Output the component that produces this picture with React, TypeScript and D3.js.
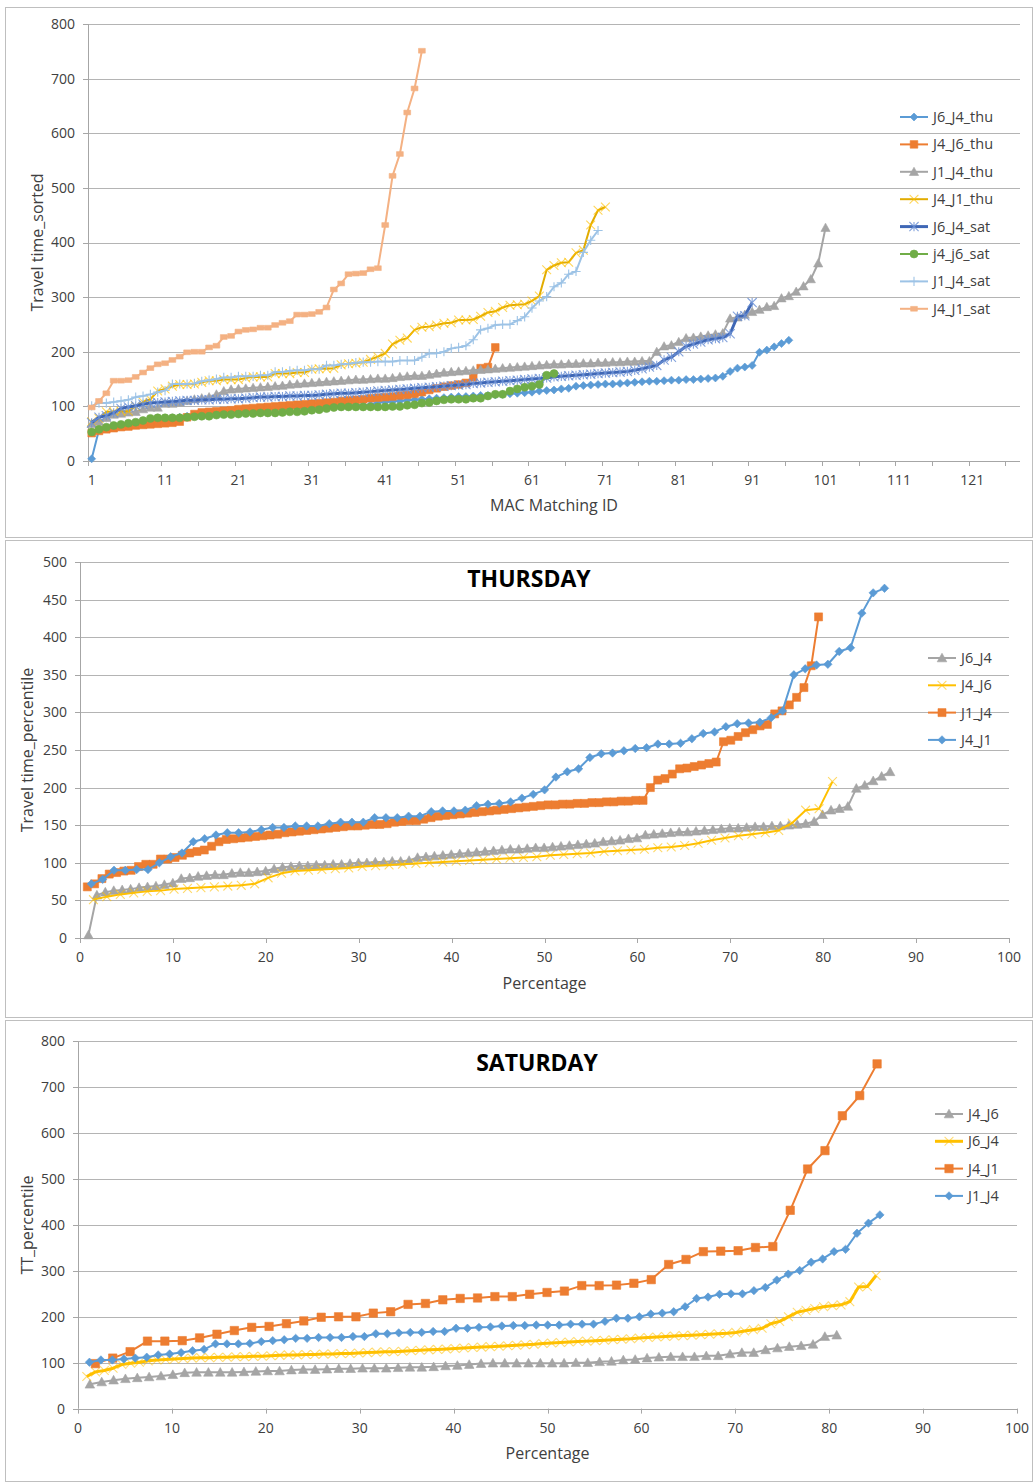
import * as d3 from "d3";
import { useEffect, useRef } from "react";
import * as React from "react";

// travel times, sorted, per MAC matching ID (thursday)
const thuJ6J4 = [
  4, 57, 61, 63, 64, 65, 67, 68, 69, 71, 73, 79, 80, 82, 83, 84, 84, 86, 87, 87,
  88, 89, 92, 94, 95, 96, 96, 97, 97, 98, 98, 99, 100, 100, 101, 101, 102, 102, 103, 107,
  108, 109, 110, 111, 112, 113, 114, 115, 116, 117, 118, 118, 119, 120, 120, 121, 122, 123, 124, 125,
  126, 128, 129, 130, 132, 133, 137, 138, 139, 140, 141, 141, 142, 143, 144, 145, 146, 146, 147, 148,
  148, 149, 149, 150, 151, 152, 155, 164, 170, 172, 175, 199, 203, 209, 215, 221,
];
const thuJ4J6 = [
  51, 55, 58, 60, 62, 63, 65, 66, 67, 68, 69, 70, 72, 80, 86, 89, 90, 91, 92, 93,
  95, 96, 97, 98, 99, 100, 101, 102, 103, 104, 105, 106, 107, 108, 110, 111, 112, 113, 115, 116,
  117, 118, 120, 121, 123, 126, 130, 133, 136, 138, 140, 143, 153, 170, 172, 208,
];
const thuJ1J4 = [
  68, 72, 79, 85, 87, 89, 90, 95, 98, 98, 105, 105, 107, 110, 113, 115, 117, 122, 128, 131,
  132, 133, 134, 135, 136, 137, 138, 140, 141, 142, 143, 144, 145, 146, 147, 148, 149, 149, 150, 151,
  151, 152, 154, 155, 156, 156, 158, 160, 162, 163, 164, 165, 166, 167, 168, 169, 170, 171, 172, 173,
  174, 175, 176, 177, 177, 178, 178, 179, 179, 180, 180, 181, 181, 182, 182, 183, 183, 200, 210, 212,
  218, 225, 226, 228, 230, 232, 234, 261, 263, 268, 273, 277, 282, 284, 298, 302, 310, 320, 333, 362,
  427,
];
const thuJ4J1 = [
  72, 78, 90, 90, 91, 91, 100, 108, 113, 128, 132, 137, 140, 140, 141, 144, 147, 147, 149, 149,
  149, 152, 154, 154, 154, 160, 160, 160, 162, 162, 168, 169, 169, 170, 176, 178, 179, 181, 186, 191,
  197, 214, 221, 225, 240, 245, 246, 249, 252, 253, 258, 258, 259, 265, 272, 274, 281, 285, 286, 287,
  293, 302, 350, 358, 363, 364, 381, 386, 432, 459, 465,
];
// saturday
const satJ6J4 = [
  70, 80, 83, 88, 96, 99, 101, 104, 106, 107, 108, 109, 110, 111, 111, 112, 112, 113, 113, 114,
  114, 115, 116, 117, 117, 118, 118, 119, 119, 120, 120, 121, 122, 123, 124, 124, 125, 126, 127, 128,
  129, 130, 131, 132, 133, 134, 135, 136, 137, 138, 139, 140, 142, 143, 144, 145, 146, 147, 148, 149,
  150, 151, 152, 154, 155, 156, 157, 158, 159, 160, 161, 162, 163, 164, 166, 169, 172, 175, 185, 190,
  200, 210, 214, 218, 222, 224, 226, 233, 265, 266, 290,
];
const satJ4J6 = [
  53, 58, 62, 65, 67, 69, 71, 74, 78, 79, 79, 79, 79, 80, 81, 82, 82, 84, 85, 85,
  86, 87, 87, 88, 88, 88, 89, 90, 90, 91, 93, 94, 96, 98, 99, 99, 99, 99, 99, 99,
  99, 100, 100, 102, 103, 106, 107, 110, 112, 113, 113, 113, 115, 115, 119, 122, 122, 128, 132, 135,
  137, 140, 157, 160,
];
const satJ1J4 = [
  101, 106, 106, 108, 110, 112, 117, 119, 122, 126, 129, 141, 141, 141, 142, 146, 148, 150, 153, 153,
  155, 155, 155, 157, 157, 163, 163, 165, 166, 166, 168, 168, 175, 175, 177, 178, 180, 181, 181, 182,
  182, 182, 184, 184, 184, 190, 197, 197, 200, 206, 208, 211, 222, 240, 243, 249, 250, 250, 257, 264,
  280, 293, 301, 319, 326, 342, 347, 382, 404, 422,
];
const satJ4J1 = [
  98, 110, 124, 147, 147, 148, 154, 162, 170, 177, 179, 185, 191, 199, 200, 200, 208, 211, 227, 229,
  237, 240, 241, 244, 244, 249, 253, 256, 268, 268, 269, 273, 281, 314, 325, 342, 343, 344, 351, 353,
  432, 522, 562, 638, 682, 751,
];

const sortedNames = ["J6_J4_thu", "J4_J6_thu", "J1_J4_thu", "J4_J1_thu", "J6_J4_sat", "j4_j6_sat", "J1_J4_sat", "J4_J1_sat"];
const thuNames = ["J6_J4", "J4_J6", "J1_J4", "J4_J1"];
const thuEndPct = [87.2, 81, 79.5, 86.6];
const satNames = ["J4_J6", "J6_J4", "J4_J1", "J1_J4"];
const satEndPct = [80.8, 85, 85.1, 85.4];
const xTicksId = [1, 11, 21, 31, 41, 51, 61, 71, 81, 91, 101, 111, 121];
const pctTicks = [0, 10, 20, 30, 40, 50, 60, 70, 80, 90, 100];

const FONT = "'Open Sans', 'Noto Sans', sans-serif";
const TXT = "#404040";

type Spec = {
  name: string;
  values: number[];
  color: string;
  marker: string;
  lw: number;
  ms: number;
  mcolor?: string;
  mop?: number;
  endPct?: number;
};

function markerPath(kind: string, r: number) {
  switch (kind) {
    case "diamond":
      return `M0,${-r}L${r},0L0,${r}L${-r},0Z`;
    case "square":
      return `M${-r},${-r}H${r}V${r}H${-r}Z`;
    case "triangle":
      return `M0,${-r}L${r},${r * 0.8}L${-r},${r * 0.8}Z`;
    case "circle":
      return d3.symbol(d3.symbolCircle, Math.PI * r * r)() as string;
    case "x":
      return `M${-r},${-r}L${r},${r}M${-r},${r}L${r},${-r}`;
    case "star":
      return `M${-r},${-r}L${r},${r}M${-r},${r}L${r},${-r}M0,${-r}V${r}`;
    case "plus":
      return `M${-r},0H${r}M0,${-r}V${r}`;
    case "dash":
      return `M${-r},${-r * 0.7}H${r}V${r * 0.7}H${-r}Z`;
  }
  return "";
}

const stroked = (k: string) => k === "x" || k === "star" || k === "plus";

function addMarker(g: any, s: Spec, x: number, y: number) {
  const mc = s.mcolor || s.color;
  const p = g
    .append("path")
    .attr("d", markerPath(s.marker, s.ms))
    .attr("transform", `translate(${x},${y})`);
  if (stroked(s.marker)) {
    p.attr("fill", "none").attr("stroke", mc).attr("stroke-width", 1.1).attr("opacity", s.mop ?? 1);
  } else {
    p.attr("fill", mc).attr("stroke", mc).attr("stroke-width", 0.6);
  }
}

type Panel = {
  box: [number, number, number, number];
  left: number;
  right: number;
  top: number;
  bottom: number;
  xDomain: [number, number];
  yMax: number;
  yStep: number;
  xTicks: number[];
  xMarks: number[];
  xTitle: string;
  xTitleY: number;
  yTitle: string;
  yTitleX: number;
  title?: string;
  titleX?: number;
  titleY?: number;
  legendX: number;
  legendY: number;
  legendDy: number;
  series: Spec[];
  xOf: (i: number, s: Spec) => number;
};

function drawPanel(svg: any, p: Panel) {
  const [bx, by, bw, bh] = p.box;
  svg
    .append("rect")
    .attr("x", bx + 0.5)
    .attr("y", by + 0.5)
    .attr("width", bw)
    .attr("height", bh)
    .attr("fill", "#fff")
    .attr("stroke", "#BFBFBF");

  const x = d3.scaleLinear().domain(p.xDomain).range([p.left, p.right]);
  const y = d3.scaleLinear().domain([0, p.yMax]).range([p.bottom, p.top]);
  const yTicks = d3.range(0, p.yMax + 0.1, p.yStep);

  // gridlines
  svg
    .append("g")
    .selectAll("line")
    .data(yTicks.filter((t) => t > 0))
    .join("line")
    .attr("x1", p.left)
    .attr("x2", p.right)
    .attr("y1", (d: number) => Math.round(y(d)) + 0.5)
    .attr("y2", (d: number) => Math.round(y(d)) + 0.5)
    .attr("stroke", "#B4B4B4")
    .attr("stroke-width", 1);

  // axes
  const ax = svg.append("g").attr("stroke", "#A6A6A6").attr("stroke-width", 1);
  const by0 = Math.round(p.bottom) + 0.5;
  ax.append("line").attr("x1", p.left).attr("x2", p.right).attr("y1", by0).attr("y2", by0);
  ax.append("line").attr("x1", p.left + 0.5).attr("x2", p.left + 0.5).attr("y1", p.top).attr("y2", p.bottom);
  yTicks.forEach((t) => {
    const yy = Math.round(y(t)) + 0.5;
    ax.append("line").attr("x1", p.left - 5).attr("x2", p.left).attr("y1", yy).attr("y2", yy);
  });
  p.xMarks.forEach((t) => {
    const xx = Math.round(x(t)) + 0.5;
    ax.append("line").attr("x1", xx).attr("x2", xx).attr("y1", p.bottom).attr("y2", p.bottom + 5);
  });

  const tg = svg.append("g").attr("font-family", FONT).attr("fill", TXT);
  yTicks.forEach((t) => {
    tg.append("text")
      .attr("x", p.left - 13)
      .attr("y", y(t))
      .attr("dy", "0.35em")
      .attr("text-anchor", "end")
      .attr("font-size", 14)
      .text(t);
  });
  p.xTicks.forEach((t) => {
    tg.append("text")
      .attr("x", x(t))
      .attr("y", p.bottom + 19)
      .attr("dy", "0.35em")
      .attr("text-anchor", "middle")
      .attr("font-size", 14)
      .text(t);
  });
  tg.append("text")
    .attr("x", (p.left + p.right) / 2)
    .attr("y", p.xTitleY)
    .attr("dy", "0.35em")
    .attr("text-anchor", "middle")
    .attr("font-size", 16)
    .text(p.xTitle);
  tg.append("text")
    .attr("transform", `translate(${p.yTitleX},${(p.top + p.bottom) / 2}) rotate(-90)`)
    .attr("dy", "0.35em")
    .attr("text-anchor", "middle")
    .attr("font-size", 16)
    .text(p.yTitle);
  if (p.title) {
    tg.append("text")
      .attr("x", p.titleX)
      .attr("y", p.titleY)
      .attr("dy", "0.35em")
      .attr("text-anchor", "middle")
      .attr("font-size", 23)
      .attr("font-weight", "bold")
      .attr("fill", "#000")
      .text(p.title);
  }

  // series
  p.series.forEach((s) => {
    const g = svg.append("g");
    const pts = s.values.map((v, i) => [x(p.xOf(i, s)), y(v)] as [number, number]);
    g.append("path")
      .attr("d", d3.line()(pts))
      .attr("fill", "none")
      .attr("stroke", s.color)
      .attr("stroke-width", s.lw)
      .attr("stroke-linejoin", "round");
    pts.forEach(([px, py]) => addMarker(g, s, px, py));
  });

  // legend
  const lg = svg.append("g");
  p.series.forEach((s, i) => {
    const ly = p.legendY + i * p.legendDy;
    lg.append("line")
      .attr("x1", p.legendX)
      .attr("x2", p.legendX + 28)
      .attr("y1", ly)
      .attr("y2", ly)
      .attr("stroke", s.color)
      .attr("stroke-width", s.lw);
    addMarker(lg, s, p.legendX + 14, ly);
    lg.append("text")
      .attr("x", p.legendX + 33)
      .attr("y", ly)
      .attr("dy", "0.35em")
      .attr("font-family", FONT)
      .attr("font-size", 14.5)
      .attr("fill", TXT)
      .text(s.name);
  });
}

const App = () => {
  const ref = useRef<SVGSVGElement>(null);

  useEffect(() => {
    const svg = d3.select(ref.current);
    svg.selectAll("*").remove();

    const sortedSeries: Spec[] = [
      { name: sortedNames[0], values: thuJ6J4, color: "#5B9BD5", marker: "diamond", lw: 2, ms: 4 },
      { name: sortedNames[1], values: thuJ4J6, color: "#ED7D31", marker: "square", lw: 2, ms: 3.8 },
      { name: sortedNames[2], values: thuJ1J4, color: "#A5A5A5", marker: "triangle", lw: 2, ms: 4.6 },
      { name: sortedNames[3], values: thuJ4J1, color: "#E2AC00", marker: "x", lw: 2, ms: 4.4, mcolor: "#FFC000", mop: 0.65 },
      { name: sortedNames[4], values: satJ6J4, color: "#3F67B5", marker: "star", lw: 3, ms: 4.6, mcolor: "#6F93D6", mop: 0.85 },
      { name: sortedNames[5], values: satJ4J6, color: "#70AD47", marker: "circle", lw: 2, ms: 4 },
      { name: sortedNames[6], values: satJ1J4, color: "#9DC3E6", marker: "plus", lw: 2, ms: 4.6, mcolor: "#9DC3E6" },
      { name: sortedNames[7], values: satJ4J1, color: "#F4B183", marker: "dash", lw: 2, ms: 3.4 },
    ];
    drawPanel(svg, {
      box: [5, 7, 1027, 530],
      left: 88,
      right: 1020,
      top: 24,
      bottom: 461,
      xDomain: [0.5, 127.5],
      yMax: 800,
      yStep: 100,
      xTicks: xTicksId,
      xMarks: d3.range(0.5, 127.6, 5),
      xTitle: "MAC Matching ID",
      xTitleY: 505,
      yTitle: "Travel time_sorted",
      yTitleX: 37,
      legendX: 900,
      legendY: 117,
      legendDy: 27.4,
      series: sortedSeries,
      xOf: (i) => i + 1,
    });

    const thuSeries: Spec[] = [
      { name: thuNames[0], values: thuJ6J4, color: "#A5A5A5", marker: "triangle", lw: 2, ms: 4.8, endPct: thuEndPct[0] },
      { name: thuNames[1], values: thuJ4J6, color: "#FFC000", marker: "x", lw: 2, ms: 4.4, mcolor: "#FFC000", mop: 0.6, endPct: thuEndPct[1] },
      { name: thuNames[2], values: thuJ1J4, color: "#ED7D31", marker: "square", lw: 2, ms: 4, endPct: thuEndPct[2] },
      { name: thuNames[3], values: thuJ4J1, color: "#5B9BD5", marker: "diamond", lw: 2, ms: 4.2, endPct: thuEndPct[3] },
    ];
    drawPanel(svg, {
      box: [5, 540, 1027, 477],
      left: 80,
      right: 1009,
      top: 562,
      bottom: 938,
      xDomain: [0, 100],
      yMax: 500,
      yStep: 50,
      xTicks: pctTicks,
      xMarks: pctTicks,
      xTitle: "Percentage",
      xTitleY: 983,
      yTitle: "Travel time_percentile",
      yTitleX: 27,
      title: "THURSDAY",
      titleX: 529,
      titleY: 579,
      legendX: 928,
      legendY: 658,
      legendDy: 27.3,
      series: thuSeries,
      xOf: (i, s) => ((s.endPct as number) * (i + 1)) / s.values.length,
    });

    const satSeries: Spec[] = [
      { name: satNames[0], values: satJ4J6, color: "#A5A5A5", marker: "triangle", lw: 2, ms: 4.8, endPct: satEndPct[0] },
      { name: satNames[1], values: satJ6J4, color: "#FFC000", marker: "x", lw: 3, ms: 4.4, mcolor: "#FFC000", mop: 0.55, endPct: satEndPct[1] },
      { name: satNames[2], values: satJ4J1, color: "#ED7D31", marker: "square", lw: 2, ms: 4.2, endPct: satEndPct[2] },
      { name: satNames[3], values: satJ1J4, color: "#5B9BD5", marker: "diamond", lw: 2, ms: 4.2, endPct: satEndPct[3] },
    ];
    drawPanel(svg, {
      box: [5, 1020, 1027, 461],
      left: 78,
      right: 1017,
      top: 1041.4,
      bottom: 1408.6,
      xDomain: [0, 100],
      yMax: 800,
      yStep: 100,
      xTicks: pctTicks,
      xMarks: pctTicks,
      xTitle: "Percentage",
      xTitleY: 1453,
      yTitle: "TT_percentile",
      yTitleX: 27,
      title: "SATURDAY",
      titleX: 537,
      titleY: 1063,
      legendX: 935,
      legendY: 1114,
      legendDy: 27.3,
      series: satSeries,
      xOf: (i, s) => ((s.endPct as number) * (i + 1)) / s.values.length,
    });
  }, []);

  return (
    <svg
      ref={ref}
      width={1033}
      height={1483}
      style={{ position: "absolute", left: 0, top: 0, background: "#fff" }}
    />
  );
};

export default App;
